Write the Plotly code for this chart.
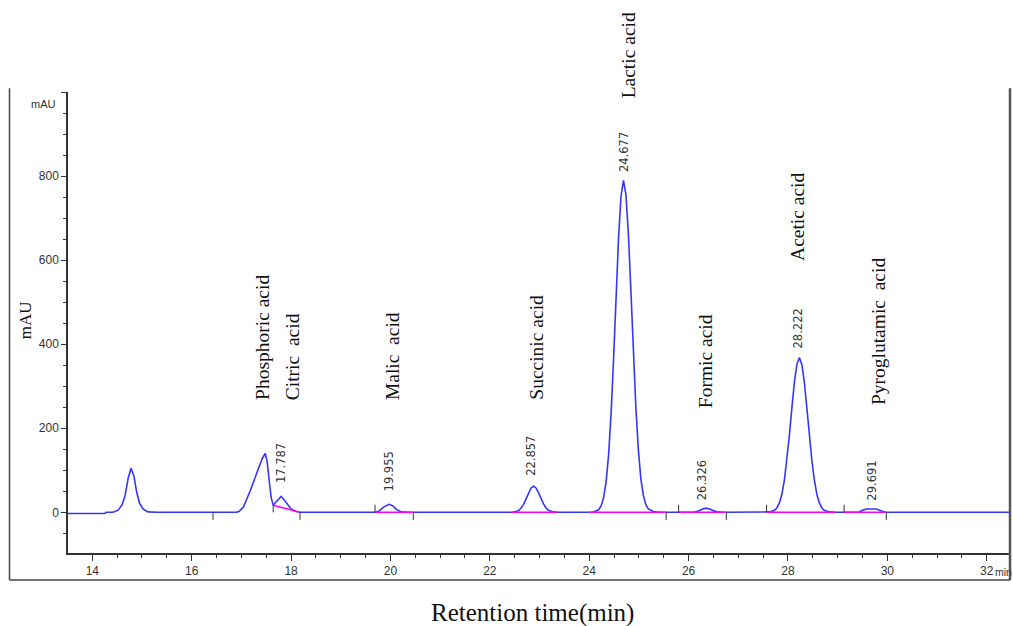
import plotly.graph_objects as go

# ---------------- data ----------------
time_min = [
    13.51, 14.25, 14.28, 14.42, 14.52, 14.60, 14.66, 14.72, 14.78, 14.84, 14.89, 14.95, 15.02, 15.12, 15.30,
    16.90, 16.95, 17.04, 17.18, 17.31, 17.42, 17.48, 17.52, 17.56, 17.60, 17.64, 17.70, 17.76, 17.80, 17.86,
    17.93, 18.00, 18.10, 18.20,
    19.70, 19.78, 19.87, 19.97, 20.05, 20.12, 20.22, 20.35,
    22.48, 22.58, 22.63, 22.68, 22.73, 22.78, 22.83, 22.88, 22.93, 22.98, 23.03, 23.08, 23.13, 23.18, 23.28, 23.38,
    24.05, 24.09, 24.19, 24.24, 24.29, 24.34, 24.39, 24.44, 24.49, 24.54, 24.59, 24.64, 24.69, 24.74, 24.79,
    24.84, 24.89, 24.94, 24.99, 25.04, 25.09, 25.14, 25.19, 25.29, 25.40,
    26.10, 26.20, 26.28, 26.35, 26.43, 26.50, 26.58, 26.70,
    27.55, 27.63, 27.73, 27.78, 27.83, 27.88, 27.93, 27.98, 28.03, 28.08, 28.13, 28.18, 28.23, 28.28, 28.33,
    28.38, 28.43, 28.48, 28.53, 28.58, 28.63, 28.68, 28.73, 28.83, 28.93,
    29.42, 29.50, 29.58, 29.78, 29.88, 29.95,
    32.47,
]
signal_mau = [
    -3, -3, 0, 0, 5, 18, 40, 80, 105, 85, 50, 22, 8, 1, 0,
    0, 2, 12, 52, 92, 128, 140, 120, 75, 35, 17, 25, 35, 38, 30,
    18, 8, 2, 0,
    0, 4, 13, 19, 15, 7, 1, 0,
    0, 4, 10, 19, 32, 46, 58, 62, 58, 47, 33, 20, 11, 5, 1, 0,
    0, 1, 6, 15, 35, 72, 136, 233, 362, 510, 650, 752, 790, 755, 660,
    525, 378, 248, 148, 80, 40, 18, 8, 2, 0,
    0, 3, 8, 10, 8, 4, 1, 0,
    0, 1, 5, 11, 23, 44, 78, 125, 184, 249, 310, 352, 368, 352, 310,
    249, 184, 125, 78, 44, 23, 11, 5, 1, 0,
    0, 5, 8, 8, 4, 0,
    0,
]

# integration baselines (magenta): start, end, start value, end value
base_start = [17.64, 19.69, 22.45, 24.00, 25.80, 27.57, 29.13]
base_end = [18.18, 20.46, 23.35, 25.55, 26.76, 28.95, 29.98]
base_start_val = [17, 0, 0, 0, 0, 0, 0]
base_end_val = [0, 0, 0, 0, 0, 0, 0]

# integration event markers: time, direction (+1 up, -1 down)
event_times = [16.43, 17.64, 18.18, 19.69, 20.46, 25.55, 25.80, 26.76, 27.57, 29.13, 29.98]
event_dirs = [-1, 1, -1, 1, -1, -1, 1, -1, 1, 1, -1]

# retention-time labels
rt_labels = ["17.787", "19.955", "22.857", "24.677", "26.326", "28.222", "29.691"]
rt_x = [17.80, 19.98, 22.84, 24.69, 26.27, 28.21, 29.70]
rt_y = [65, 46, 81, 806, 24, 386, 24]

# compound labels
compounds = ["Phosphoric acid", "Citric  acid", "Malic  acid", "Succinic acid",
             "Lactic acid", "Formic acid", "Acetic acid", "Pyroglutamic  acid"]
comp_x = [17.42, 18.03, 20.03, 22.95, 24.78, 26.33, 28.18, 29.81]
comp_y = [262, 262, 262, 262, 980, 243, 593, 250]

x_ticks = [14, 16, 18, 20, 22, 24, 26, 28, 30, 32]
y_ticks = [0, 200, 400, 600, 800, 1000]
y_ticktext = ["0", "200", "400", "600", "800", ""]

# ---------------- figure ----------------
fig = go.Figure()

fig.add_trace(go.Scatter(
    x=time_min, y=signal_mau, mode="lines",
    line=dict(color="#3535ff", width=1.6), hoverinfo="skip", showlegend=False,
))

bx, by = [], []
for s, e, sv, ev in zip(base_start, base_end, base_start_val, base_end_val):
    bx += [s, e, None]
    by += [sv, ev, None]
fig.add_trace(go.Scatter(
    x=bx, y=by, mode="lines", line=dict(color="#ff00ff", width=1.6),
    hoverinfo="skip", showlegend=False,
))

ex, ey = [], []
for t, d in zip(event_times, event_dirs):
    ex += [t, t, None]
    ey += [0, d * 18, None]
fig.add_trace(go.Scatter(
    x=ex, y=ey, mode="lines", line=dict(color="#333333", width=1),
    hoverinfo="skip", showlegend=False,
))

annotations = []
for txt, x, y in zip(rt_labels, rt_x, rt_y):
    annotations.append(dict(
        x=x, y=y, xref="x", yref="y", text=txt, showarrow=False, textangle=-90,
        xanchor="center", yanchor="bottom",
        font=dict(family="DejaVu Sans", size=11.5, color="#333333"),
    ))
for txt, x, y in zip(compounds, comp_x, comp_y):
    annotations.append(dict(
        x=x, y=y, xref="x", yref="y", text=txt, showarrow=False, textangle=-90,
        xanchor="center", yanchor="bottom",
        font=dict(family="Liberation Serif", size=19.5, color="#111111"),
    ))

# axis-related texts
annotations.append(dict(x=-0.011, y=0.975, xref="paper", yref="paper", text="mAU",
                        showarrow=False, xanchor="right", yanchor="middle",
                        font=dict(family="Liberation Sans", size=11, color="#333333")))
annotations.append(dict(x=0.9815, y=-0.041, xref="paper", yref="paper", text="min",
                        showarrow=False, xanchor="left", yanchor="middle",
                        font=dict(family="Liberation Sans", size=10.5, color="#333333")))
annotations.append(dict(x=-0.0456, y=0.505, xref="paper", yref="paper", text="mAU",
                        showarrow=False, textangle=-90, xanchor="center", yanchor="middle",
                        font=dict(family="Liberation Serif", size=17, color="#111111")))
annotations.append(dict(x=0.4926, y=-0.130, xref="paper", yref="paper",
                        text="Retention time(min)", showarrow=False,
                        xanchor="center", yanchor="middle",
                        font=dict(family="Liberation Serif", size=25, color="#111111")))

frame_l, frame_r = -0.0621, 1.0
frame_b, frame_t = -0.0585, 1.008
shapes = [
    dict(type="line", xref="paper", yref="paper", x0=frame_l, x1=frame_l, y0=frame_b, y1=frame_t,
         line=dict(color="#444444", width=1.5)),
    dict(type="line", xref="paper", yref="paper", x0=frame_r, x1=frame_r, y0=frame_b, y1=frame_t,
         line=dict(color="#555555", width=2.5)),
    dict(type="line", xref="paper", yref="paper", x0=frame_l, x1=frame_r, y0=frame_b, y1=frame_b,
         line=dict(color="#444444", width=1.5)),
]

tick_font = dict(family="Liberation Sans", size=12, color="#333333")
fig.update_layout(
    width=1013, height=626,
    margin=dict(l=68, r=3, t=91.7, b=73, autoexpand=False),
    paper_bgcolor="white", plot_bgcolor="white",
    showlegend=False,
    annotations=annotations, shapes=shapes,
    xaxis=dict(
        range=[13.511, 32.469], tickmode="array", tickvals=x_ticks,
        ticks="outside", ticklen=6, tickwidth=1, tickcolor="#333333",
        showline=True, linecolor="#333333", linewidth=1.5,
        showgrid=False, zeroline=False, tickfont=tick_font, automargin=False,
        minor=dict(dtick=0.5, tick0=14, ticks="outside", ticklen=3, tickcolor="#333333", showgrid=False),
    ),
    yaxis=dict(
        range=[-96.8, 1000], tickmode="array", tickvals=y_ticks, ticktext=y_ticktext,
        ticks="outside", ticklen=5, tickwidth=1, tickcolor="#333333",
        showline=True, linecolor="#333333", linewidth=1.5,
        showgrid=False, zeroline=False, tickfont=tick_font, automargin=False,
        minor=dict(dtick=50, tick0=0, ticks="outside", ticklen=3, tickcolor="#333333", showgrid=False),
    ),
)

fig.write_html("out.html")
